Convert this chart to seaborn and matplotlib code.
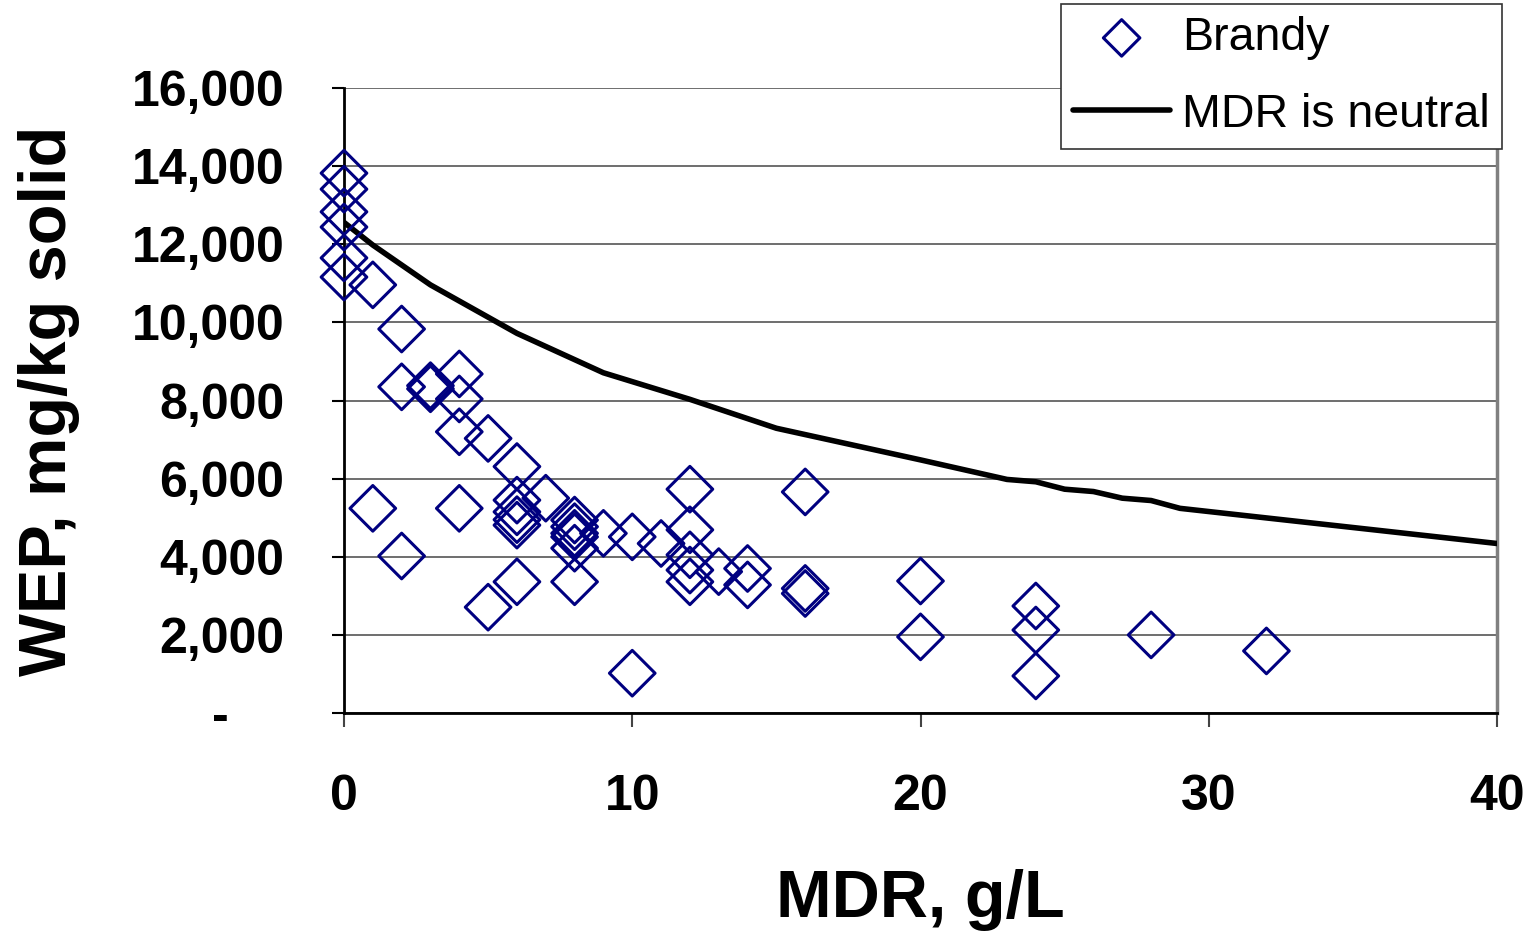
import matplotlib
matplotlib.use("Agg")
import pandas as pd
import matplotlib.pyplot as plt
import seaborn as sns

# Brandy samples: MDR (g/L) vs WEP (mg/kg solid)
brandy_mdr = [0, 0, 0, 0, 0, 0,
              1, 1,
              2, 2, 2,
              3, 3,
              4, 4, 4, 4,
              5, 5,
              6, 6, 6, 6, 6, 6,
              7,
              8, 8, 8, 8, 8, 8,
              9,
              10, 10,
              11,
              12, 12, 12, 12, 12,
              13,
              14, 14,
              16, 16, 16,
              20, 20,
              24, 24, 24,
              28,
              32]
brandy_wep = [13820, 13410, 12830, 12440, 11650, 11160,
              10960, 5240,
              9830, 8350, 4020,
              8380, 8300,
              8680, 8040, 7200, 5240,
              7030, 2710,
              6310, 5450, 5150, 4950, 4810, 3360,
              5500,
              4940, 4770, 4600, 4510, 4220, 3360,
              4600,
              4510, 1020,
              4340,
              5730, 4690, 4050, 3660, 3360,
              3620,
              3700, 3280,
              5660, 3190, 3060,
              3380, 1950,
              2740, 2125, 950,
              2000,
              1590]

# "MDR is neutral" curve
neutral_mdr = [0, 1, 3, 6, 9, 12, 15, 20, 23, 24, 25, 26, 27, 28, 29, 40]
neutral_wep = [12560, 11980, 10960, 9720, 8710, 8030, 7290, 6480,
               5980, 5920, 5730, 5670, 5500, 5440, 5240, 4340]

xticks = [0, 10, 20, 30, 40]
yticks = [0, 2000, 4000, 6000, 8000, 10000, 12000, 14000, 16000]
ytick_labels = ["-    ", "2,000", "4,000", "6,000", "8,000",
                "10,000", "12,000", "14,000", "16,000"]

brandy = pd.DataFrame({"MDR": brandy_mdr, "WEP": brandy_wep})
neutral = pd.DataFrame({"MDR": neutral_mdr, "WEP": neutral_wep})

sns.set_theme(style="white")
plt.rcParams['font.family'] = ['Liberation Sans', 'DejaVu Sans']
plt.rcParams['text.color'] = 'black'
plt.rcParams['axes.labelcolor'] = 'black'
plt.rcParams['xtick.color'] = 'black'
plt.rcParams['ytick.color'] = 'black'

fig = plt.figure(figsize=(15.37, 9.36), dpi=100)
ax = fig.add_axes([0.2238, 0.2382, 0.7502, 0.6678])

navy = "#000080"
sns.lineplot(data=neutral, x="MDR", y="WEP", color="black", lw=4,
             estimator=None, sort=False, ax=ax, label="MDR is neutral", zorder=3)
sns.scatterplot(data=brandy, x="MDR", y="WEP", marker="D", s=540,
                facecolor="none", edgecolor=navy, linewidth=2.2,
                ax=ax, label="Brandy", zorder=4, clip_on=False)

ax.set_xlim(0, 40)
ax.set_ylim(0, 16000)
ax.set_xticks(xticks)
ax.set_xticklabels([str(t) for t in xticks], fontsize=36, fontweight="bold")
ax.set_yticks(yticks)
ax.set_yticklabels(ytick_labels, fontsize=36, fontweight="bold")
ax.tick_params(axis="y", direction="out", length=9, width=1.5, color="black", pad=34, left=True)
ax.tick_params(axis="x", direction="out", length=10, width=1.5, color="#444444", pad=34, bottom=True)

ax.yaxis.grid(True, color="#6e6e6e", lw=1.4)
ax.xaxis.grid(False)
ax.set_axisbelow(True)

for side in ["left", "bottom"]:
    ax.spines[side].set_color("black")
    ax.spines[side].set_linewidth(2)
ax.spines["right"].set_color("#808080")
ax.spines["right"].set_linewidth(2.5)
ax.spines["top"].set_visible(False)

ax.set_xlabel("MDR, g/L", fontsize=48, fontweight="bold")
ax.set_ylabel("WEP, mg/kg solid", fontsize=48, fontweight="bold")
ax.xaxis.set_label_coords(0.5, -0.25)
ax.yaxis.set_label_coords(-0.229, 0.5)

handles, labels = ax.get_legend_handles_labels()
order = [labels.index("Brandy"), labels.index("MDR is neutral")]
leg = ax.legend([handles[i] for i in order], [labels[i] for i in order],
                loc="upper right", bbox_to_anchor=(0.9772, 0.9957),
                bbox_transform=fig.transFigure, fontsize=33.5, frameon=True,
                fancybox=False, edgecolor="#333333", framealpha=1,
                handlelength=2.1, handletextpad=0.25, borderpad=0.26,
                labelspacing=0.7, borderaxespad=0, markerscale=0.8)
leg.get_frame().set_linewidth(1.2)

fig.savefig("out.png", dpi=100)
